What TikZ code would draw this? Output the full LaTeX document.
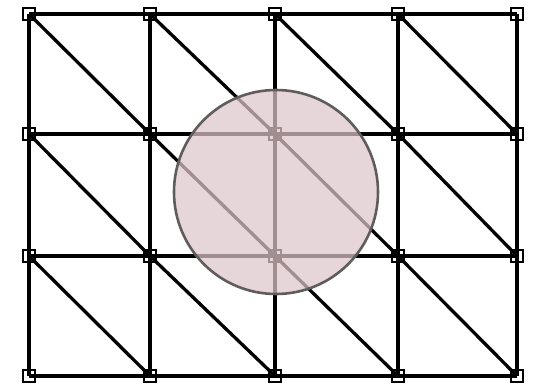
\documentclass[tikz,border=0pt]{standalone}
\definecolor{discfill}{RGB}{222,198,202}
\definecolor{discedge}{RGB}{95,92,92}
\tikzset{
  gridpt/.style={draw,rectangle,minimum size=11.5pt,inner sep=0pt,line width=2.4pt},
  bar/.style={line width=3.3pt},
  disc/.style={draw=discedge,line width=2.6pt,fill=discfill,fill opacity=0.72}
}
\begin{document}
\begin{tikzpicture}[x=1pt,y=-1pt]
\useasboundingbox (0,0) rectangle (538,386);
% mesh points
\foreach \c/\x in {1/29,2/150,3/275,4/398,5/517}
  \foreach \r/\y in {1/14,2/134,3/256,4/376}
    \node[gridpt] (n\c\r) at (\x,\y) {};
% horizontal edges
\foreach \c/\d in {1/2,2/3,3/4,4/5}
  \foreach \r in {1,2,3,4}
    \draw[bar] (n\c\r.center) -- (n\d\r.center);
% vertical edges
\foreach \c in {1,2,3,4,5}
  \foreach \r/\s in {1/2,2/3,3/4}
    \draw[bar] (n\c\r.center) -- (n\c\s.center);
% diagonals
\foreach \c/\d in {1/2,2/3,3/4,4/5}
  \foreach \r/\s in {1/2,2/3,3/4}
    \draw[bar] (n\c\r.center) -- (n\d\s.center);
% disc
\draw[disc] (276,192) circle (102);
\end{tikzpicture}
\end{document}
